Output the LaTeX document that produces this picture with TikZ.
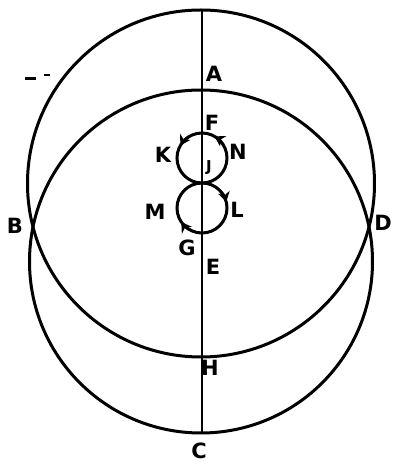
\documentclass[tikz,border=0pt]{standalone}
\usepackage{fontspec}
\setmainfont{DejaVu Sans}
\usetikzlibrary{arrows.meta}
\begin{document}
\begin{tikzpicture}[x=1pt,y=1pt,
  lbl/.style={font=\fontsize{21}{21}\selectfont\bfseries, inner sep=0pt},
  slbl/.style={font=\fontsize{15}{15}\selectfont\bfseries, inner sep=0pt},
  curve/.style={line width=3pt},
  arr/.style={line width=2.6pt,-{Stealth[length=10pt,width=12pt]}}]
\useasboundingbox (0,0) rectangle (394,464);
\fill[white] (0,0) rectangle (394,464);
% centres
\coordinate (ubig) at (201,280.5);
\coordinate (lbig) at (201,202.5);
\coordinate (us) at (202,306);
\coordinate (ls) at (202,256);
\coordinate (top) at (202,454);
\coordinate (bot) at (202,30);
% big circles
\draw[curve] (ubig) circle[radius=173.5];
\draw[curve] (lbig) circle[radius=171.5];
% vertical line
\draw[line width=2.6pt] (top) -- (bot);
% small circles
\draw[curve] (us) circle[radius=25];
\draw[curve] (ls) circle[radius=25];
% arrows on small circles
\draw[arr] ([shift={(122:25)}]us) arc[start angle=122,end angle=150,radius=25];
\draw[arr] ([shift={(32:25)}]us) arc[start angle=32,end angle=60,radius=25];
\draw[arr] ([shift={(42:25)}]ls) arc[start angle=42,end angle=14,radius=25];
\draw[arr] ([shift={(242:25)}]ls) arc[start angle=242,end angle=214,radius=25];
% stray marks
\draw[line width=3pt] (25,385) -- (36,385);
\draw[line width=1.6pt] (44,389) -- (50,389);
% labels
\node[lbl] (A) at (214,390) {A};
\node[lbl] (F) at (212,341) {F};
\node[lbl] (K) at (163,309) {K};
\node[lbl] (N) at (238,312) {N};
\node[slbl] (J) at (209,296) {J};
\node[lbl] (M) at (155,252) {M};
\node[lbl] (L) at (237,254) {L};
\node[lbl] (G) at (187,216) {G};
\node[lbl] (E) at (213,197) {E};
\node[lbl] (H) at (210,96) {H};
\node[lbl] (C) at (199,13.5) {C};
\node[lbl] (B) at (15,238) {B};
\node[lbl] (D) at (383,241) {D};
\end{tikzpicture}
\end{document}
